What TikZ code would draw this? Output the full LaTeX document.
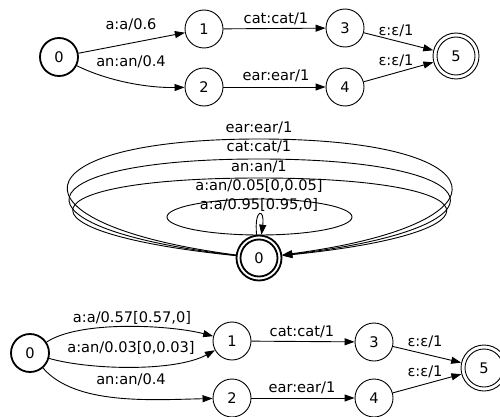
\documentclass[tikz,border=0pt]{standalone}
\usepackage{fontspec}
\setmainfont{DejaVu Sans}
\usetikzlibrary{arrows.meta}
\begin{document}
\begin{tikzpicture}[x=1pt,y=-1pt,
  font=\fontsize{14.6}{17}\selectfont,
  st/.style={circle,draw,line width=0.9pt,minimum size=38pt,inner sep=0pt},
  initst/.style={st,line width=1.8pt},
  finst/.style={circle,draw,line width=0.9pt,minimum size=46pt,inner sep=0pt,
    path picture={\draw[line width=0.9pt] (path picture bounding box.center) circle (19pt);}},
  bothst/.style={circle,draw,line width=1.8pt,minimum size=45pt,inner sep=0pt,
    path picture={\draw[line width=1.8pt] (path picture bounding box.center) circle (18.5pt);}},
  edge/.style={line width=0.9pt,-{Triangle[length=10pt,width=7pt]}},
  lbl/.style={inner sep=0pt}
]
\useasboundingbox (0,0) rectangle (500,417);

% ---------- top graph ----------
\node[initst] (t0) at (59,57) {0};
\node[st] (t1) at (204,29) {1};
\node[st] (t2) at (204,87) {2};
\node[st] (t3) at (345,28) {3};
\node[st] (t4) at (345,87) {4};
\node[finst] (t5) at (456,56) {5};

\draw[edge] (t0) -- (t1);
\draw[edge] (t0) .. controls (110,82) and (150,88) .. (t2);
\draw[edge] (t1) -- (t3);
\draw[edge] (t2) -- (t4);
\draw[edge] (t3) -- (t5);
\draw[edge] (t4) -- (t5);

\node[lbl] (la) at (131,25) {a:a/0.6};
\node[lbl] (lb) at (131,62) {an:an/0.4};
\node[lbl] (lc) at (276,19) {cat:cat/1};
\node[lbl] (ld) at (276,76) {ear:ear/1};
\node[lbl] (le) at (396,31) {ε:ε/1};
\node[lbl] (lf) at (396,61) {ε:ε/1};

% ---------- middle graph ----------
\node[bothst] (m0) at (259,258) {0};

\draw[edge] (m0) .. controls (0,224) and (15,139) .. (259,139)
                 .. controls (503,139) and (518,224) .. (m0);
\draw[edge] (m0) .. controls (0,228) and (20,159) .. (259,159)
                 .. controls (498,159) and (518,228) .. (m0);
\draw[edge] (m0) .. controls (5,232) and (25,178) .. (259,178)
                 .. controls (493,178) and (513,232) .. (m0);
\draw[line width=0.9pt] (259.5,217) ellipse [x radius=92.5pt, y radius=18pt];
\draw[edge] (m0.96) .. controls (254,208) and (265,208) .. (m0.84);

\node[lbl] (m1) at (259,128) {ear:ear/1};
\node[lbl] (m2) at (259,147) {cat:cat/1};
\node[lbl] (m3) at (259,167) {an:an/1};
\node[lbl] (m4) at (259,186) {a:an/0.05[0,0.05]};
\node[lbl] (m5) at (259,205) {a:a/0.95[0.95,0]};

% ---------- bottom graph ----------
\node[initst] (b0) at (30,353) {0};
\node[st] (b1) at (232,341) {1};
\node[st] (b2) at (232,398) {2};
\node[st] (b3) at (374,342) {3};
\node[st] (b4) at (374,398) {4};
\node[finst] (b5) at (484,368) {5};

\draw[edge] (b0) .. controls (80,320) and (170,325) .. (b1);
\draw[edge] (b0) .. controls (90,370) and (175,372) .. (b1);
\draw[edge] (b0) .. controls (75,405) and (150,400) .. (b2);
\draw[edge] (b1) -- (b3);
\draw[edge] (b2) -- (b4);
\draw[edge] (b3) -- (b5);
\draw[edge] (b4) -- (b5);

\node[lbl] (n1) at (132,318) {a:a/0.57[0.57,0]};
\node[lbl] (n2) at (131,348) {a:an/0.03[0,0.03]};
\node[lbl] (n3) at (131,380) {an:an/0.4};
\node[lbl] (n4) at (302,332) {cat:cat/1};
\node[lbl] (n5) at (302,388) {ear:ear/1};
\node[lbl] (n6) at (425,342) {ε:ε/1};
\node[lbl] (n7) at (425,372) {ε:ε/1};
\end{tikzpicture}
\end{document}
